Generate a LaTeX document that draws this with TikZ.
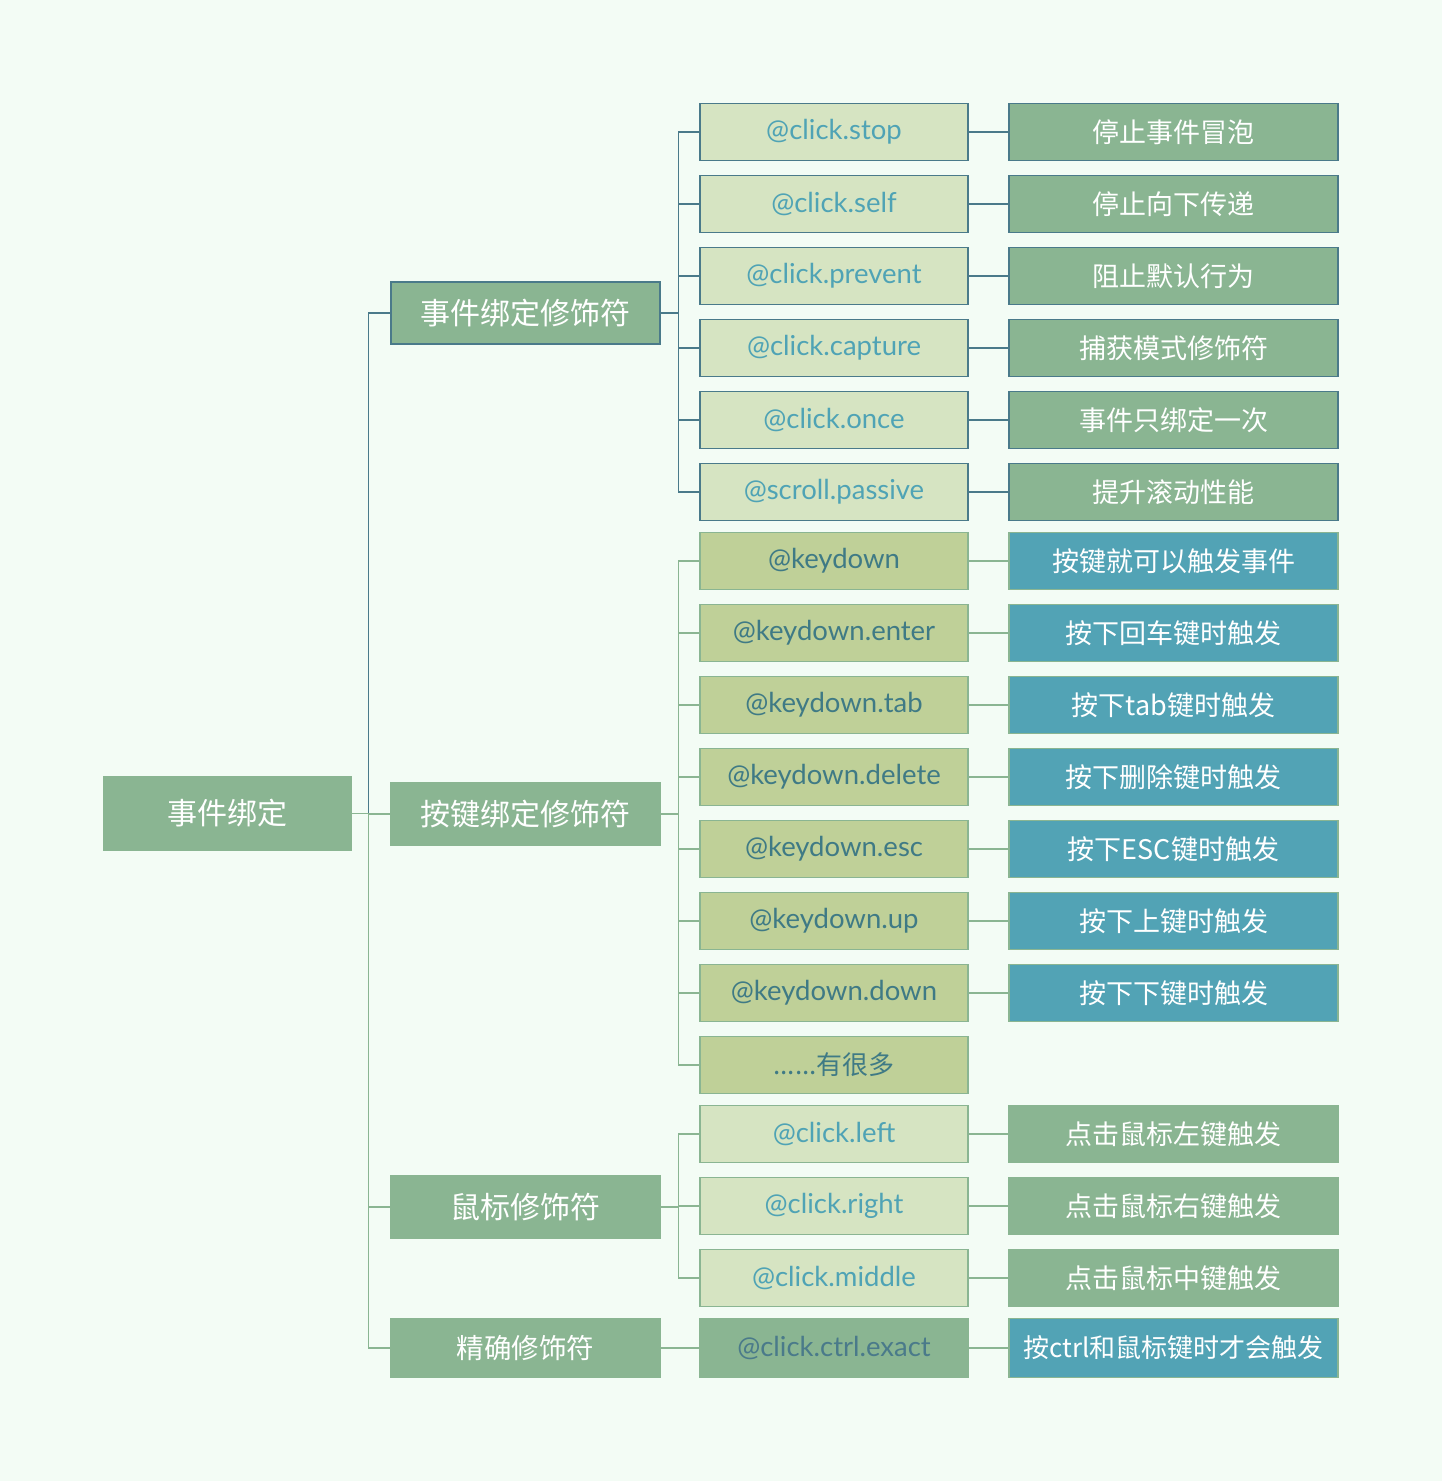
\documentclass[tikz,border=0pt]{standalone}
\usepackage{fontspec}
\setmainfont{Lato}
\newfontfamily\cjk{Noto Sans CJK SC}
\usetikzlibrary{positioning}
\definecolor{bgmint}{HTML}{F3FCF5}
\definecolor{midgreen}{HTML}{8AB592}
\definecolor{palegreen}{HTML}{D6E4C2}
\definecolor{olivegreen}{HTML}{BFD098}
\definecolor{seateal}{HTML}{52A3B5}
\definecolor{darkteal}{HTML}{4A7A8A}
\definecolor{textteal}{HTML}{4FA3B5}
\definecolor{textdark}{HTML}{3F7A85}
\tikzset{
    modtree/.style={
        x=1pt, y=-1pt,
        line width=1.5pt,
        % nodo radice
        rootbox/.style={draw=midgreen, fill=midgreen, text=white,
                        minimum width=247pt, minimum height=73pt,
                        font=\cjk\fontsize{30}{34}\selectfont},
        % categorie di modificatori
        groupbox/.style={draw=midgreen, fill=midgreen, text=white,
                         minimum width=269pt, minimum height=62pt,
                         font=\cjk\fontsize{30}{34}\selectfont},
        % modificatori (testo latino)
        modbox/.style={minimum width=268pt, minimum height=57pt,
                       font=\fontsize{27.5}{32}\selectfont},
        % descrizioni
        descbox/.style={text=white, minimum width=329pt, minimum height=57pt,
                        font=\cjk\fontsize{27}{32}\selectfont},
        eventmod/.style={modbox, draw=darkteal, fill=palegreen, text=textteal},
        keymod/.style={modbox, draw=midgreen, fill=olivegreen, text=textdark},
        mousemod/.style={modbox, draw=midgreen, fill=palegreen, text=textteal},
        exactmod/.style={modbox, draw=midgreen, fill=midgreen, text=darkteal},
        eventdesc/.style={descbox, draw=darkteal, fill=midgreen},
        keydesc/.style={descbox, draw=midgreen, fill=seateal},
        mousedesc/.style={descbox, draw=midgreen, fill=midgreen},
        tealline/.style={draw=darkteal},
        greenline/.style={draw=midgreen}
    }
}
\begin{document}
\begin{tikzpicture}[modtree]
    \fill[bgmint] (0,0) rectangle (1442,1481);
    \useasboundingbox (0,0) rectangle (1442,1481);

    % radice e categorie
    \node[rootbox] (root) at (227.5,813.5) {事件绑定};
    \node[groupbox, draw=darkteal] (event) at (525.5,313) {事件绑定修饰符};
    \node[groupbox] (key) at (525.5,814) {按键绑定修饰符};
    \node[groupbox] (mouse) at (525.5,1207) {鼠标修饰符};
    \node[groupbox, minimum height=59pt, font=\cjk\fontsize{27.5}{32}\selectfont] (exact) at (525.5,1348) {精确修饰符};

    % modificatori di evento
    \node[eventmod] (stop) at (834,132) {@click.stop};
    \node[eventmod] (self) at (834,204) {@click.self};
    \node[eventmod] (prevent) at (834,276) {@click.prevent};
    \node[eventmod] (capture) at (834,348) {@click.capture};
    \node[eventmod] (once) at (834,420) {@click.once};
    \node[eventmod] (passive) at (834,492) {@scroll.passive};

    \node[eventdesc] (stopd) at (1173.5,132) {停止事件冒泡};
    \node[eventdesc] (selfd) at (1173.5,204) {停止向下传递};
    \node[eventdesc] (preventd) at (1173.5,276) {阻止默认行为};
    \node[eventdesc] (captured) at (1173.5,348) {捕获模式修饰符};
    \node[eventdesc] (onced) at (1173.5,420) {事件只绑定一次};
    \node[eventdesc] (passived) at (1173.5,492) {提升滚动性能};

    % modificatori di tastiera
    \node[keymod] (kdown) at (834,561) {@keydown};
    \node[keymod] (enter) at (834,633) {@keydown.enter};
    \node[keymod] (tab) at (834,705) {@keydown.tab};
    \node[keymod] (delete) at (834,777) {@keydown.delete};
    \node[keymod] (esc) at (834,849) {@keydown.esc};
    \node[keymod] (up) at (834,921) {@keydown.up};
    \node[keymod] (down) at (834,993) {@keydown.down};
    \node[keymod, font=\cjk\fontsize{26}{30}\selectfont] (more) at (834,1065) {......有很多};

    \node[keydesc] (kdownd) at (1173.5,561) {按键就可以触发事件};
    \node[keydesc] (enterd) at (1173.5,633) {按下回车键时触发};
    \node[keydesc] (tabd) at (1173.5,705) {按下tab键时触发};
    \node[keydesc] (deleted) at (1173.5,777) {按下删除键时触发};
    \node[keydesc] (escd) at (1173.5,849) {按下ESC键时触发};
    \node[keydesc] (upd) at (1173.5,921) {按下上键时触发};
    \node[keydesc] (downd) at (1173.5,993) {按下下键时触发};

    % modificatori del mouse
    \node[mousemod] (left) at (834,1134) {@click.left};
    \node[mousemod] (right) at (834,1206) {@click.right};
    \node[mousemod] (middle) at (834,1278) {@click.middle};

    \node[mousedesc] (leftd) at (1173.5,1134) {点击鼠标左键触发};
    \node[mousedesc] (rightd) at (1173.5,1206) {点击鼠标右键触发};
    \node[mousedesc] (middled) at (1173.5,1278) {点击鼠标中键触发};

    % modificatore esatto
    \node[exactmod, minimum height=59pt] (ctrl) at (834,1348) {@click.ctrl.exact};
    \node[keydesc, minimum height=59pt, font=\cjk\fontsize{26}{30}\selectfont] (ctrld) at (1173.5,1348) {按ctrl和鼠标键时才会触发};

    % collegamenti
    \draw[tealline] (event.west) -- ++(-22,0) |- (root.east);
    \foreach \g in {key,mouse,exact}
        \draw[greenline] (\g.west) -- ++(-22,0) |- (root.east);

    \foreach \m/\d in {stop/stopd,self/selfd,prevent/preventd,capture/captured,once/onced,passive/passived}{
        \draw[tealline] (\m.west) -- ++(-21,0) |- (event.east);
        \draw[tealline] (\m.east) -- (\d.west);
    }
    \foreach \m in {kdown,enter,tab,delete,esc,up,down,more}
        \draw[greenline] (\m.west) -- ++(-21,0) |- (key.east);
    \foreach \m/\d in {kdown/kdownd,enter/enterd,tab/tabd,delete/deleted,esc/escd,up/upd,down/downd,left/leftd,right/rightd,middle/middled,ctrl/ctrld}
        \draw[greenline] (\m.east) -- (\d.west);
    \foreach \m in {left,right,middle}
        \draw[greenline] (\m.west) -- ++(-21,0) |- (mouse.east);
    \draw[greenline] (exact.east) -- (ctrl.west);
\end{tikzpicture}
\end{document}
